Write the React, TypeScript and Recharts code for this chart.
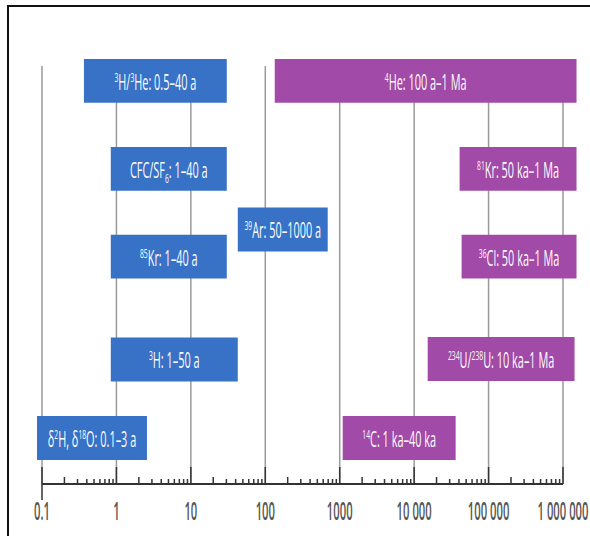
import React from 'react';
import { ComposedChart, XAxis, YAxis, ReferenceArea, CartesianGrid } from 'recharts';

// ---- data ----
const tracerLabels = [
  '^{3}H/^{3}He: 0.5–40 a',
  'CFC/SF_{6}: 1–40 a',
  '^{85}Kr: 1–40 a',
  '^{3}H: 1–50 a',
  'δ^{2}H, δ^{18}O: 0.1–3 a',
  '^{39}Ar: 50–1000 a',
  '^{4}He: 100 a–1 Ma',
  '^{81}Kr: 50 ka–1 Ma',
  '^{36}Cl: 50 ka–1 Ma',
  '^{234}U/^{238}U: 10 ka–1 Ma',
  '^{14}C: 1 ka–40 ka',
];
// visible left / right edges of each box (years, log axis)
const rangeStart = [0.366, 0.84, 0.84, 0.84, 0.0857, 42.7, 134, 40800, 43400, 15200, 1097];
const rangeEnd = [30.4, 30.4, 30.4, 42.7, 2.57, 690, 1520000, 1520000, 1520000, 1430000, 36100];
// vertical lane (0 = top of grid, 100 = axis)
const laneCenter = [3.55, 24.6, 45.6, 70.2, 89.0, 39.1, 3.55, 24.6, 45.6, 70.1, 89.0];
const tracerGroup = ['young', 'young', 'young', 'young', 'young', 'young', 'old', 'old', 'old', 'old', 'old'];

const majorTicks = [0.1, 1, 10, 100, 1000, 10000, 100000, 1000000];
const majorTickLabels = ['0.1', '1', '10', '100', '1000', '10 000', '100 000', '1 000 000'];

// ---- styles ----
const groupColor: Record<string, string> = { young: '#3872C6', old: '#A24AA7' };
const BAR_H = 10.5;
const FONT = '"Open Sans", "Noto Sans", sans-serif';

const minorTicks: number[] = [];
majorTicks.slice(0, -1).forEach((m) => {
  for (let k = 2; k <= 9; k++) minorTicks.push(+(m * k).toPrecision(6));
});
const allTicks = [...majorTicks, ...minorTicks].sort((a, b) => a - b);

type Part = { t: string; k: 'n' | 'sup' | 'sub' };
function parseRich(s: string): Part[] {
  const parts: Part[] = [];
  const re = /(\^|_)\{([^}]*)\}/g;
  let last = 0;
  let m: RegExpExecArray | null;
  while ((m = re.exec(s))) {
    if (m.index > last) parts.push({ t: s.slice(last, m.index), k: 'n' });
    parts.push({ t: m[2], k: m[1] === '^' ? 'sup' : 'sub' });
    last = re.lastIndex;
  }
  if (last < s.length) parts.push({ t: s.slice(last), k: 'n' });
  return parts;
}

function BarLabel(props: any) {
  const vb = props.viewBox || props;
  const { x, y, width, height } = vb;
  const cx = x + width / 2;
  const base = y + height / 2 + 9;
  const parts = parseRich(props.text);
  let cur = 0;
  return (
    <text
      transform={`translate(${cx},${base}) scale(0.52,1)`}
      x={0}
      y={0}
      textAnchor="middle"
      fill="#ffffff"
      fontFamily={FONT}
      fontSize={21}
      opacity={0.99}
    >
      {parts.map((p, i) => {
        const target = p.k === 'sup' ? -8 : p.k === 'sub' ? 5 : 0;
        const dy = target - cur;
        cur = target;
        return (
          <tspan key={i} dy={dy} fontSize={p.k === 'n' ? 21 : 13}>
            {p.t}
          </tspan>
        );
      })}
    </text>
  );
}

function isMajor(v: number) {
  const l = Math.log10(v);
  return Math.abs(l - Math.round(l)) < 1e-6;
}

function renderTick(props: any) {
  const { x, y, payload } = props;
  const v = payload.value;
  if (isMajor(v)) {
    const idx = majorTicks.findIndex((m) => Math.abs(m - v) / m < 1e-6);
    const first = idx === 0;
    return (
      <g>
        <line x1={x} x2={x} y1={y - 17} y2={first ? y + 16 : y} stroke="#333" strokeWidth={1.5} />
        <text
          transform={`translate(${x},${y + 36}) scale(0.45,1)`}
          x={0}
          y={0}
          textAnchor="middle"
          fill="#555"
          fontFamily={FONT}
          fontSize={25}
          fontWeight={600}
          opacity={0.99}
        >
          {majorTickLabels[idx]}
        </text>
      </g>
    );
  }
  const r = Math.round(v / Math.pow(10, Math.floor(Math.log10(v) + 1e-9)));
  const h = r === 2 ? 7 : 5;
  return <line x1={x} x2={x} y1={y - h} y2={y} stroke="#333" strokeWidth={1.5} />;
}

export default function App() {
  return (
    <div
      style={{
        position: 'absolute',
        left: 0,
        top: 0,
        width: 590,
        height: 536,
        overflow: 'hidden',
        background: '#fff',
      }}
    >
      <div
        style={{
          position: 'absolute',
          left: 7,
          top: 5,
          width: 700,
          height: 700,
          border: '2px solid #111',
        }}
      />
      <div style={{ position: 'absolute', left: 0, top: 0 }}>
        <ComposedChart width={590} height={536} margin={{ top: 66, right: 27, bottom: 0, left: 42 }}>
          <CartesianGrid
            horizontal={false}
            vertical
            verticalValues={majorTicks}
            stroke="#9a9a9a"
            strokeWidth={1.5}
          />
          <XAxis
            type="number"
            dataKey="x"
            scale="log"
            domain={[0.1, 1000000]}
            allowDataOverflow
            ticks={allTicks}
            interval={0}
            tickSize={0}
            tickMargin={0}
            tickLine={false}
            axisLine={{ stroke: '#333', strokeWidth: 2 }}
            height={52}
            tick={renderTick}
          />
          <YAxis type="number" domain={[0, 100]} allowDataOverflow reversed hide width={0} />
          {tracerLabels.map((lab, i) => (
            <ReferenceArea
              key={'b' + i}
              x1={rangeStart[i]}
              x2={rangeEnd[i]}
              y1={laneCenter[i] - BAR_H / 2}
              y2={laneCenter[i] + BAR_H / 2}
              fill={groupColor[tracerGroup[i]]}
              fillOpacity={1}
              stroke="none"
              ifOverflow="visible"
              label={<BarLabel text={lab} />}
            />
          ))}
        </ComposedChart>
      </div>
    </div>
  );
}
